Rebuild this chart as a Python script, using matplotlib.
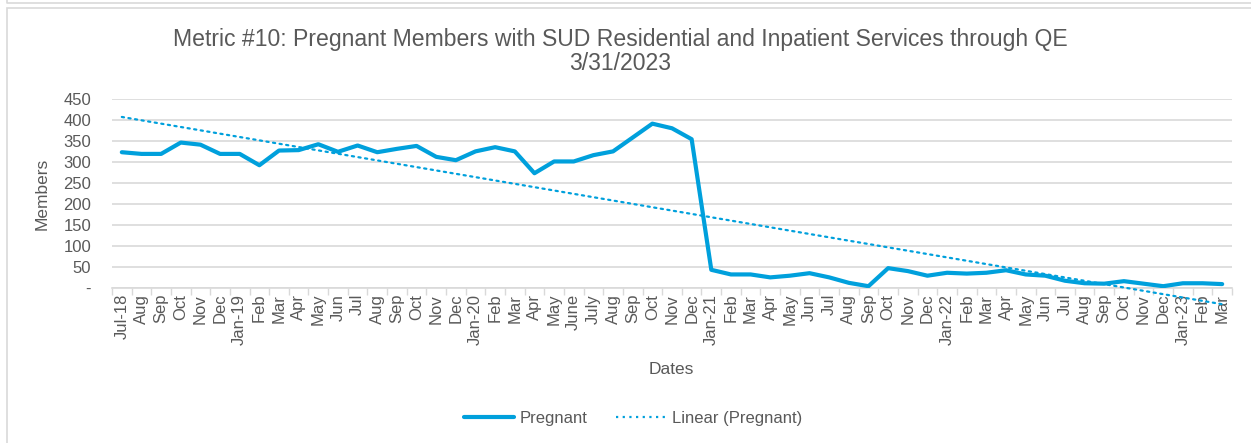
import numpy as np
import matplotlib
matplotlib.use("Agg")
import matplotlib.pyplot as plt
from matplotlib.patches import Rectangle
from matplotlib.lines import Line2D

plt.rcParams["font.family"] = ["Liberation Sans", "DejaVu Sans"]
BLUE, GREY, GRID = "#00A0DC", "#595959", "#D9D9D9"

months = ["Jul-18", "Aug", "Sep", "Oct", "Nov", "Dec",
          "Jan-19", "Feb", "Mar", "Apr", "May", "Jun", "Jul", "Aug", "Sep", "Oct", "Nov", "Dec",
          "Jan-20", "Feb", "Mar", "Apr", "May", "June", "July", "Aug", "Sep", "Oct", "Nov", "Dec",
          "Jan-21", "Feb", "Mar", "Apr", "May", "Jun", "Jul", "Aug", "Sep", "Oct", "Nov", "Dec",
          "Jan-22", "Feb", "Mar", "Apr", "May", "Jun", "Jul", "Aug", "Sep", "Oct", "Nov", "Dec",
          "Jan-23", "Feb", "Mar"]
pregnant = [324, 320, 320, 347, 342, 320,
            320, 293, 328, 329, 343, 325, 340, 324, 332, 339, 313, 305,
            326, 336, 326, 274, 302, 302, 317, 326, 359, 392, 381, 355,
            44, 33, 33, 26, 30, 36, 26, 13, 5, 48, 41, 30,
            37, 35, 37, 43, 33, 30, 18, 12, 11, 17, 11, 5,
            12, 12, 10]

x = np.arange(len(months))
y = np.array(pregnant, dtype=float)
k, b = np.polyfit(x, y, 1)

fig = plt.figure(figsize=(12.51, 4.43), dpi=100)
W, H = 1251, 443
ax = fig.add_axes([112 / W, 1 - 288.3 / H, 1120 / W, 189 / H])

ax.plot(x, y, color=BLUE, lw=3, solid_joinstyle="round", solid_capstyle="round", zorder=3)
ax.plot(x, k * x + b, color=BLUE, lw=1.6, linestyle=(0, (1, 2)), dash_capstyle="round",
        clip_on=False, zorder=3)

ax.set_xlim(-0.5, len(months) - 0.5)
ax.set_ylim(0, 450)
ax.set_yticks(range(0, 451, 50))
ax.set_yticklabels(["-"] + [str(v) for v in range(50, 451, 50)])
ax.yaxis.grid(True, color=GRID, lw=1.2)
ax.set_axisbelow(True)
ax.set_xticks(x)
ax.set_xticklabels(months, rotation=90, va="top", ha="center")
ax.set_xticks(np.arange(-0.5, len(months)), minor=True)
ax.tick_params(axis="x", which="major", length=0, pad=4, labelsize=12, colors=GREY)
ax.tick_params(axis="x", which="minor", length=5, color=GRID, width=1)
ax.tick_params(axis="y", length=0, pad=15, labelsize=12, colors=GREY)
for sp in ("top", "right", "left"):
    ax.spines[sp].set_visible(False)
ax.spines["bottom"].set_color(GRID)
ax.spines["bottom"].set_linewidth(1.2)

fig.text(620 / W, 1 - 51.5 / H,
         "Metric #10: Pregnant Members with SUD Residential and Inpatient Services through QE\n3/31/2023",
         ha="center", va="center", fontsize=16.6, color=GREY, linespacing=1.08)
fig.text(42 / W, 1 - 194 / H, "Members", rotation=90, ha="center", va="center",
         fontsize=12.5, color=GREY)
fig.text(671 / W, 1 - 369 / H, "Dates", ha="center", va="center", fontsize=12.5, color=GREY)

handles = [Line2D([], [], color=BLUE, lw=3, solid_capstyle="round"),
           Line2D([], [], color=BLUE, lw=1.6, linestyle=(0, (1, 2)))]
fig.legend(handles, ["Pregnant", "Linear (Pregnant)"], loc="center", ncol=2,
           bbox_to_anchor=(633 / W, 1 - 418 / H), frameon=False, fontsize=12,
           labelcolor=GREY, handlelength=3.0, handletextpad=0.35, columnspacing=1.7)

# chart borders
fig.add_artist(Rectangle((7 / W, -0.1), 1.2, 1 - 8 / H + 0.1, transform=fig.transFigure,
                         fill=False, edgecolor=GRID, lw=1.2))
fig.add_artist(Line2D([7 / W, 7 / W, 1.0], [1.0, 1 - 3 / H, 1 - 3 / H], transform=fig.transFigure,
                      color=GRID, lw=1.2))

fig.savefig("out.png", dpi=100)
